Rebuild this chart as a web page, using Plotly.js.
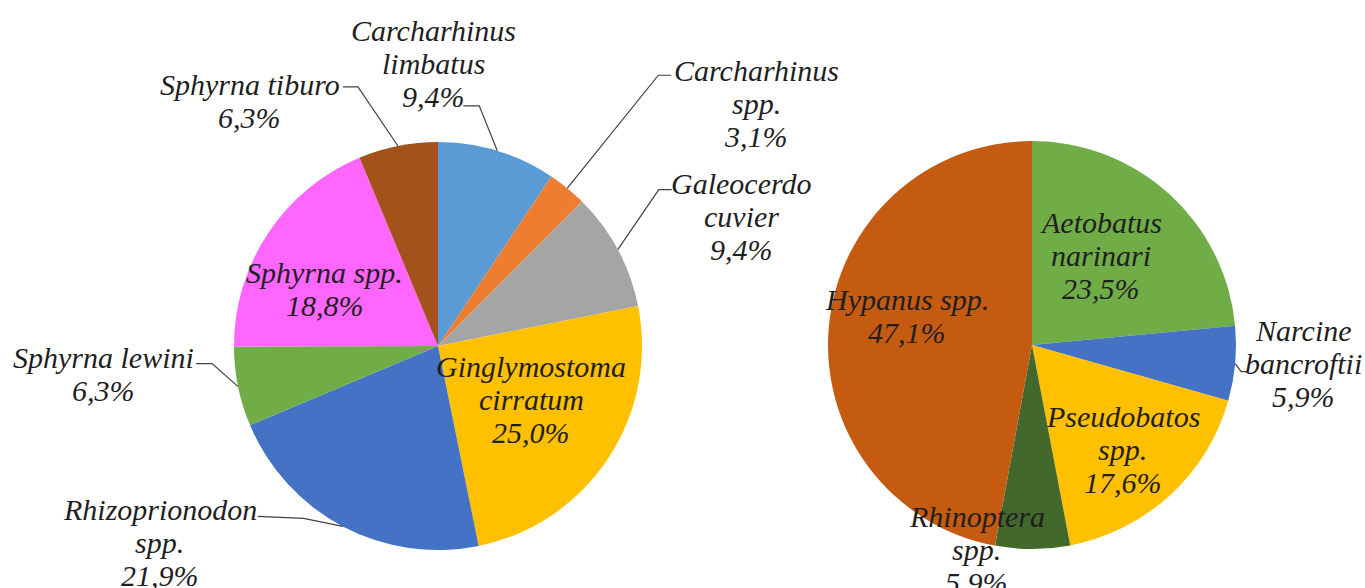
<!DOCTYPE html>
<html><head><meta charset="utf-8">
<script src="https://cdn.plot.ly/plotly-3.0.1.min.js"></script>
<style>html,body{margin:0;padding:0;background:#fff}#chart{width:1365px;height:588px}</style>
</head><body><div id="chart"></div>
<script>
// ---- data ----
const sharkLabels = ["Carcharhinus limbatus","Carcharhinus spp.","Galeocerdo cuvier","Ginglymostoma cirratum","Rhizoprionodon spp.","Sphyrna lewini","Sphyrna spp.","Sphyrna tiburo"];
const sharkValues = [9.4, 3.1, 9.4, 25.0, 21.9, 6.3, 18.8, 6.3];
const rayLabels = ["Aetobatus narinari","Narcine bancroftii","Pseudobatos spp.","Rhinoptera spp.","Hypanus spp."];
const rayValues = [23.5, 5.9, 17.6, 5.9, 47.1];

// ---- styles ----
const sharkColors = ["#5B9BD5","#ED7D31","#A5A5A5","#FFC000","#4472C4","#70AD47","#FF66FF","#A3521B"];
const rayColors = ["#70AD47","#4472C4","#FFC000","#43682B","#C55A11"];
const sharkBreak = [true,true,true,true,true,false,false,false];
const rayBreak = [true,true,true,true,false];
// label placement (pixel offsets)
const sharkPlace = [
  {mode:"out", off:[-64,-87], leader:[[-18,-45],[-34,-45]]},
  {mode:"out", off:[189,-85], leader:[[91,-113],[104,-113]]},
  {mode:"out", off:[124,-33], leader:[[41,-60],[54,-60]]},
  {mode:"in", k:0.53, off:[3,-6]},
  {mode:"out", off:[-183,16], leader:[[-39,-8],[-85,-10]]},
  {mode:"out", off:[-135,-13], leader:[[-26,-23],[-42,-23]]},
  {mode:"in", k:0.62, off:[-8,13]},
  {mode:"out", off:[-148,-45], leader:[[-40,-59],[-55,-59]]}
];
const rayPlace = [
  {mode:"in", k:0.55, off:[-7,-7]},
  {mode:"out", off:[68,0], leader:[[6,8],[12,8]]},
  {mode:"in", k:0.68, off:[-3,2]},
  {mode:"out", off:[-56,1]},
  {mode:"in", k:0.62, off:[1,-17]}
];

const W = 1365, H = 588;
const pies = [
  {labels:sharkLabels, values:sharkValues, colors:sharkColors, brk:sharkBreak, place:sharkPlace, cx:438, cy:346, R:204},
  {labels:rayLabels, values:rayValues, colors:rayColors, brk:rayBreak, place:rayPlace, cx:1032, cy:345, R:204}
];
const FS = 30, LH = 33;
const font = {family:"Liberation Serif", size:FS, color:"#1f1f1f", style:"italic"};
const px = x => x / W, py = y => 1 - y / H;

const data = [], annotations = [], shapes = [];
pies.forEach(p => {
  data.push({
    type:"pie", labels:p.labels, values:p.values, sort:false, direction:"clockwise", rotation:0,
    marker:{colors:p.colors, line:{width:0}}, textinfo:"none", hoverinfo:"label+percent",
    showlegend:false,
    domain:{x:[px(p.cx - p.R), px(p.cx + p.R)], y:[py(p.cy + p.R), py(p.cy - p.R)]}
  });
  const total = p.values.reduce((a,b)=>a+b,0);
  let cum = 0;
  p.values.forEach((v,i) => {
    const ang = (cum + v/2) / total * 2 * Math.PI;
    cum += v;
    const pl = p.place[i];
    const k = pl.mode === "in" ? pl.k : 1;
    const ex = p.cx + p.R * k * Math.sin(ang), ey = p.cy - p.R * k * Math.cos(ang);
    const tx = ex + pl.off[0], ty = ey + pl.off[1];
    const name = p.labels[i];
    let lines;
    if (p.brk[i]) { const s = name.indexOf(" "); lines = [name.slice(0,s), name.slice(s+1)]; }
    else lines = [name];
    lines.push(v.toFixed(1).replace(".", ",") + "%");
    lines.forEach((t,j) => {
      const yy = ty + (j - (lines.length - 1)/2) * LH;
      annotations.push({xref:"paper", yref:"paper", x:px(tx), y:py(yy), text:t, showarrow:false,
        xanchor:"center", yanchor:"middle", font:font});
    });
    if (pl.leader) {
      const pts = [[ex,ey]].concat(pl.leader.map(o => [ex + o[0], ey + o[1]]));
      const path = pts.map((q,j) => (j ? "L" : "M") + px(q[0]) + "," + py(q[1])).join(" ");
      shapes.push({type:"path", xref:"paper", yref:"paper", path:path, line:{color:"#404040", width:1.2}});
    }
  });
});

Plotly.newPlot("chart", data, {
  width:W, height:H, margin:{l:0,r:0,t:0,b:0}, paper_bgcolor:"#ffffff",
  font:{family:"Liberation Serif"},
  annotations:annotations, shapes:shapes, showlegend:false
}, {displayModeBar:false, staticPlot:true});
</script></body></html>
